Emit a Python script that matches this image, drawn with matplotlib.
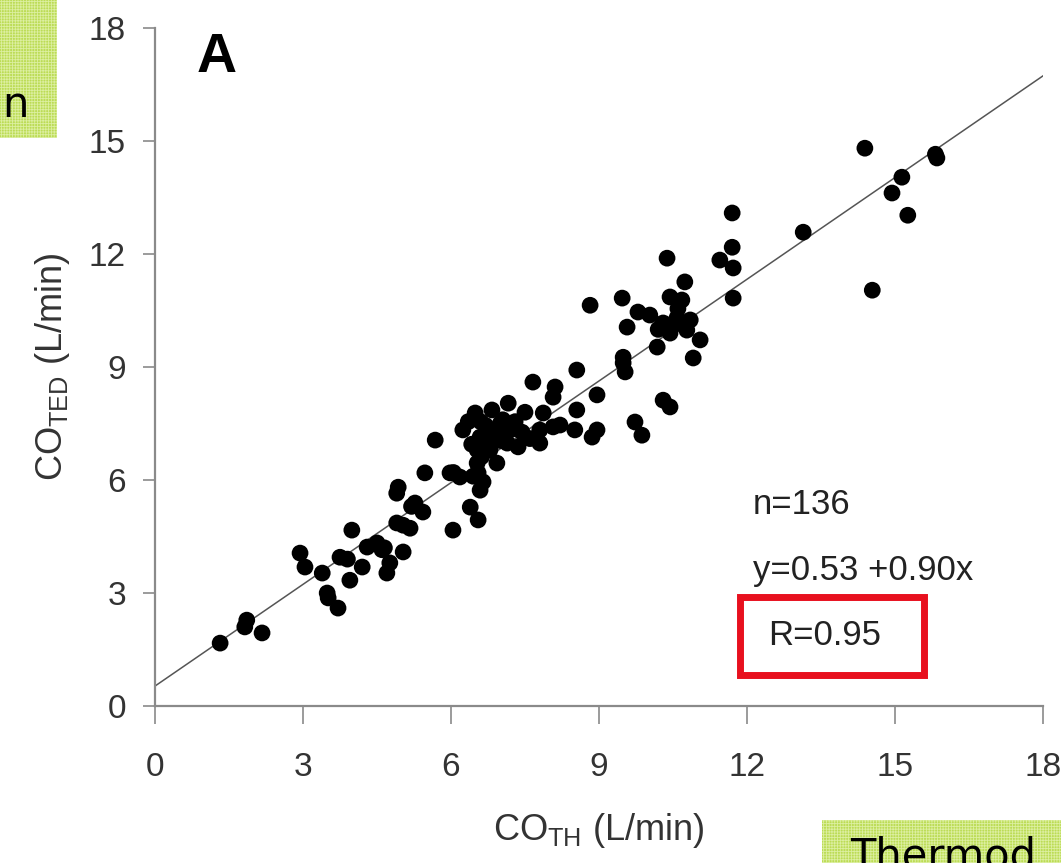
import matplotlib
matplotlib.use("Agg")
import matplotlib.pyplot as plt
from matplotlib.patches import Rectangle

plt.rcParams["font.family"] = ["Liberation Sans Narrow", "Liberation Sans", "DejaVu Sans"]
plt.rcParams["hatch.linewidth"] = 0.6

# CO by thermodilution (x) vs CO by TED (y), L/min
co_th = [
    1.32, 1.82, 1.86, 2.17, 2.94, 3.04, 3.39, 3.49, 3.51, 3.71,
    3.75, 3.90, 3.95, 3.99, 4.20, 4.30, 4.50, 4.60, 4.70, 4.76,
    4.90, 4.65,
    4.90, 4.93, 5.03, 5.03, 5.17, 5.20, 5.27, 5.43, 5.47, 5.68,
    5.98, 6.04, 6.05, 6.18, 6.39, 6.55, 6.59,
    6.24, 6.35, 6.42, 6.45, 6.49, 6.53, 6.53, 6.55, 6.59, 6.60,
    6.62, 6.65, 6.70, 6.75, 6.79, 6.83, 6.93, 6.93, 7.00, 7.00,
    7.05, 7.14, 7.16, 7.20, 7.30, 7.36, 7.44, 7.50, 7.60, 7.66,
    7.80, 7.80, 7.87, 8.07, 8.07, 8.11, 8.21, 8.51, 8.55, 8.55,
    8.86, 8.96, 8.96, 9.49, 9.53, 9.49, 9.73, 9.87, 10.30, 10.44,
    8.82, 9.47, 9.57, 9.79, 10.03, 10.18, 10.20, 10.30, 10.44, 10.44,
    10.50, 10.58, 10.60, 10.68, 10.74, 10.78, 10.85, 10.91, 11.05,
    10.38, 11.45, 11.70, 11.70, 11.72, 11.72, 13.14,
    14.39, 14.54, 14.94, 15.14, 15.26, 15.82, 15.85,
]
co_ted = [
    1.67, 2.10, 2.28, 1.94, 4.06, 3.69, 3.53, 3.00, 2.87, 2.60,
    3.95, 3.90, 3.34, 4.67, 3.69, 4.22, 4.33, 4.15, 3.53, 3.80,
    4.86, 4.20,
    5.65, 5.81, 4.80, 4.09, 4.72, 5.30, 5.39, 5.15, 6.19, 7.06,
    6.19, 4.67, 6.20, 6.08, 5.28, 4.94, 5.73,
    7.33, 7.55, 6.95, 6.10, 7.78, 6.80, 6.45, 6.19, 7.14, 7.55,
    6.62, 5.95, 7.45, 7.05, 6.80, 7.86, 7.27, 6.45, 7.05, 7.50,
    7.60, 6.98, 8.04, 7.33, 7.55, 6.88, 7.27, 7.80, 7.10, 8.60,
    7.33, 6.98, 7.78, 7.41, 8.20, 8.47, 7.46, 7.33, 7.86, 8.92,
    7.14, 8.26, 7.33, 9.11, 8.87, 9.26, 7.54, 7.19, 8.12, 7.94,
    10.64, 10.83, 10.06, 10.46, 10.38, 9.53, 10.00, 10.17, 10.86, 9.90,
    10.10, 10.30, 10.55, 10.78, 11.26, 9.98, 10.25, 9.24, 9.72,
    11.89, 11.84, 13.09, 12.18, 11.63, 10.83, 12.58,
    14.81, 11.04, 13.62, 14.04, 13.03, 14.65, 14.55,
]

intercept = 0.53
slope = 0.90
ticks = [0, 3, 6, 9, 12, 15, 18]

fig = plt.figure(figsize=(10.61, 8.63), dpi=100)
ax = fig.add_axes([0.1461, 0.1819, 0.8369, 0.7856])

ax.scatter(co_th, co_ted, s=145, color="black", edgecolors="none", zorder=3)
ax.plot([0, 18], [intercept, intercept + slope * 18], color="#555555", lw=1.1, zorder=2)

ax.set_xlim(0, 18)
ax.set_ylim(0, 18)
ax.set_xticks(ticks)
ax.set_yticks(ticks)
for side in ["top", "right"]:
    ax.spines[side].set_visible(False)
for side in ["left", "bottom"]:
    ax.spines[side].set_color("#8a8a8a")
    ax.spines[side].set_linewidth(1.6)
ax.tick_params(axis="x", length=13, width=1.2, color="#8a8a8a", pad=20,
               labelsize=24, labelcolor="#333333")
ax.tick_params(axis="y", length=9, width=1.2, color="#8a8a8a", pad=12,
               labelsize=24, labelcolor="#333333")

ax.set_xlabel(r"CO$_{\mathregular{TH}}$ (L/min)", fontsize=26, color="#333333", labelpad=20)
ax.set_ylabel(r"CO$_{\mathregular{TED}}$ (L/min)", fontsize=26, color="#333333", labelpad=12)

ax.text(0.85, 17.9, "A", fontsize=40, fontweight="bold", va="top", ha="left",
        family=["Liberation Sans", "DejaVu Sans"])
ax.text(12.12, 5.34, "n=136", fontsize=25, va="center", ha="left", color="#222222")
ax.text(12.12, 3.61, "y=0.53 +0.90x", fontsize=25, va="center", ha="left", color="#222222")
ax.text(12.43, 1.86, "R=0.95", fontsize=25, va="center", ha="left", color="#222222")
ax.add_patch(Rectangle((11.86, 0.82), 3.73, 2.07, fill=False, edgecolor="#e8101e",
                       lw=5, clip_on=False, zorder=4))

# slide overlays cut off at the edges
W, H = 1061, 863
fig.patches.append(Rectangle((0, 1 - 138 / H), 57 / W, 138 / H, transform=fig.transFigure,
                             facecolor="#bcdc55", edgecolor="#dcefa0", lw=0,
                             hatch="++++++", zorder=0))
fig.patches.append(Rectangle((822 / W, 0), 239 / W, 43 / H, transform=fig.transFigure,
                             facecolor="#bcdc55", edgecolor="#dcefa0", lw=0,
                             hatch="++++++", zorder=0))
fig.text(2 / W, 1 - 105 / H, "n", fontsize=30, va="center", ha="left",
         family=["DejaVu Sans"])
fig.text(850 / W, -14 / H, "Thermod", fontsize=30, va="bottom", ha="left",
         family=["DejaVu Sans"])

fig.savefig("out.png", dpi=100)
